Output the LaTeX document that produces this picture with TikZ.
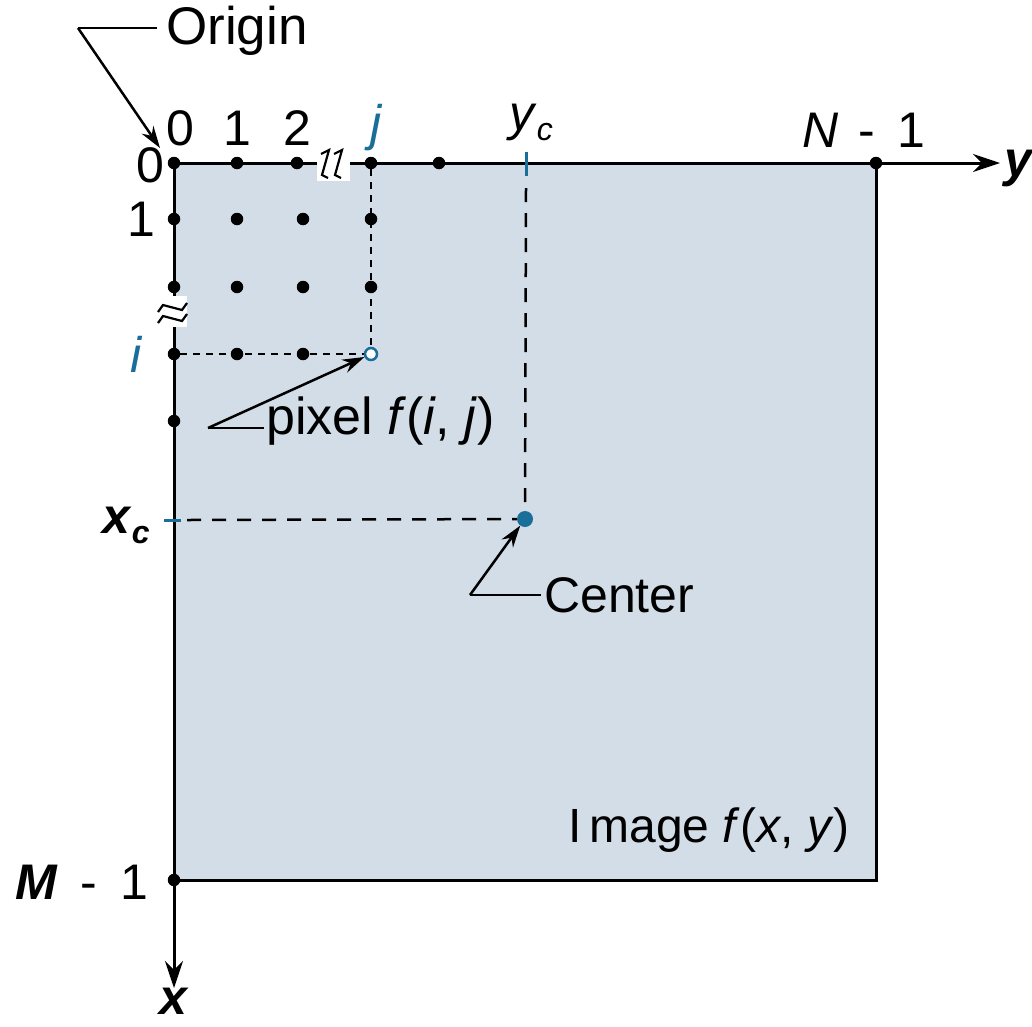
\documentclass[tikz,border=0pt]{standalone}
\usepackage{fontspec}
\setmainfont{Liberation Sans}
\usetikzlibrary{arrows.meta}
\definecolor{imgfill}{HTML}{D3DDE8}
\definecolor{idxblue}{HTML}{1A6E9A}
\begin{document}
\begin{tikzpicture}[x=1pt,y=-1pt,
  every node/.style={font=\fontsize{50}{56}\selectfont, inner sep=0pt},
  dot/.style={circle, fill=black, minimum size=12.5pt, inner sep=0pt},
  hollow/.style={circle, draw=idxblue, fill=white, line width=2.5pt, minimum size=12pt, inner sep=0pt},
  cdot/.style={circle, fill=idxblue, minimum size=16pt, inner sep=0pt},
  axis/.style={line width=3pt, -{Stealth[length=27pt,width=18pt]}},
  frame/.style={line width=3pt},
  pointer/.style={line width=2.5pt, -{Stealth[length=22pt,width=14pt]}},
  leader/.style={line width=2.5pt},
  fine/.style={line width=2pt, dash pattern=on 7pt off 6pt},
  coarse/.style={line width=2.5pt, dash pattern=on 14pt off 11pt},
  tick/.style={line width=3pt, draw=idxblue},
  brk/.style={line width=2.2pt, line join=miter}
]
\useasboundingbox (0,0) rectangle (1032,1026);

% image area
\fill[imgfill] (174,163) rectangle (876,880);
\coordinate (TR) at (876,163);
\coordinate (BR) at (876,880);
\coordinate (BL) at (174,880);
\draw[frame] (TR) -- (BR) -- (BL);

% axes
\coordinate (O) at (174,163);
\coordinate (yend) at (1000,163);
\coordinate (xend) at (174,988);
\draw[axis] (O) -- (yend);
\draw[axis] (O) -- (xend);

% top axis dots
\node[dot] (t0) at (174,163) {};
\node[dot] (t1) at (237,163) {};
\node[dot] (t2) at (297,163) {};
\node[dot] (tj) at (371,163) {};
\node[dot] (t4) at (439,163) {};
\node[dot] (tN) at (876,163) {};
% left axis dots
\node[dot] (l1) at (174,219) {};
\node[dot] (l2) at (174,287) {};
\node[dot] (li) at (174,354) {};
\node[dot] (l4) at (174,421) {};
\node[dot] (lM) at (174,880) {};
% grid dots
\node[dot] (g11) at (237,219) {};
\node[dot] (g12) at (303,219) {};
\node[dot] (g13) at (371,219) {};
\node[dot] (g21) at (237,287) {};
\node[dot] (g22) at (303,287) {};
\node[dot] (g23) at (371,287) {};
\node[dot] (g31) at (237,354) {};
\node[dot] (g32) at (303,354) {};

% dashed guides to pixel
\draw[fine] (tj) -- (371,347);
\draw[fine] (li) -- (364,354);
\node[hollow] (pix) at (371,354) {};

% break symbols
\fill[white] (317,150) rectangle (350,181);
\draw[brk] (321,154) -- (329,150) -- (322,175) -- (328,178);
\draw[brk] (334,154) -- (342,150) -- (335,175) -- (341,178);
\fill[white] (157,296) rectangle (187,327);
\draw[brk] (158,312) -- (163,305) -- (182,310) -- (187,303);
\draw[brk] (158,323) -- (163,316) -- (182,321) -- (187,314);

% center
\node[cdot] (ctr) at (525,519) {};
\coordinate (yct) at (526,152);
\coordinate (ycb) at (526,176);
\coordinate (xct) at (164,520);
\coordinate (xcr) at (181,520);
\draw[tick] (yct) -- (ycb);
\draw[tick] (xct) -- (xcr);
\draw[coarse] (526,188) -- (ctr);
\draw[coarse] (187,520) -- (ctr);

% top labels
\node (L0t) at (180,128) {0};
\node (L1t) at (237,128) {1};
\node (L2t) at (297,128) {2};
\node[text=idxblue] (Ljt) at (377,128) {\textit{j}};
\node (Lyc) at (531,122) {\textit{y}\raisebox{-10pt}{\fontsize{32}{32}\selectfont\textit{c}}};
\node (LN) at (864,130) {\textit{N}\hspace{20pt}-\hspace{22pt}1};
\node (Ly) at (1019,168) {\textbf{\textit{y}}};

% left labels
\node (L0l) at (150,165) {0};
\node (L1l) at (141,219) {1};
\node[text=idxblue] (Lil) at (137,354) {\textit{i}};
\node (Lxc) at (126,525) {\textbf{\textit{x}}\raisebox{-10pt}{\fontsize{32}{32}\selectfont\textbf{\textit{c}}}};
\node (LM) at (82,882) {\textbf{\textit{M}}\hspace{22pt}-\hspace{24pt}1};
\node (Lx) at (174,1001) {\textbf{\textit{x}}};

% Origin callout
\node[anchor=west, font=\fontsize{53}{58}\selectfont] (orig) at (166,31) {Origin};
\coordinate (ok) at (78,28);
\draw[leader] (157,28) -- (ok);
\draw[pointer] (ok) -- (160,148);

% pixel callout
\node[anchor=west, font=\fontsize{52}{58}\selectfont] (pixl) at (266,421) {pixel \textit{f}(\textit{i}, \textit{j})};
\coordinate (pk) at (208,428);
\draw[leader] (264,428) -- (pk);
\draw[pointer] (pk) -- (pix);

% center callout
\node[anchor=west] (ctrl) at (544,595) {Center};
\coordinate (ck) at (470,595);
\draw[leader] (541,595) -- (ck);
\draw[pointer] (ck) -- (ctr);

% image label
\node[anchor=west, font=\fontsize{48}{54}\selectfont] (imgl) at (568,830) {I\,mage \textit{f}(\textit{x}, \textit{y})};
\end{tikzpicture}
\end{document}
